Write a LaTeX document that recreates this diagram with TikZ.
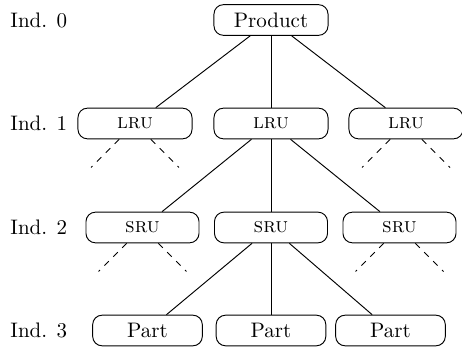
\documentclass[tikz,border=0pt]{standalone}
\begin{document}
\begin{tikzpicture}[x=0.476pt, y=-0.476pt,
  unit/.style={draw, rounded corners=4.5pt, inner sep=0pt, minimum height=14.6pt, line width=0.45pt},
  toplevel/.style={unit, minimum width=54.3pt},
  lrubox/.style={unit, minimum width=54.3pt},
  srubox/.style={unit, minimum width=53.8pt},
  partbox/.style={unit, minimum width=52.2pt},
  level/.style={anchor=west, inner sep=0pt},
  edge/.style={line width=0.45pt},
  hidden/.style={edge, dashed}]
\useasboundingbox (0,0) rectangle (462,349);

% level labels
\node[level] (l0) at (10,20) {Ind. 0};
\node[level] (l1) at (10,123.5) {Ind. 1};
\node[level] (l2) at (10,227.5) {Ind. 2};
\node[level] (l3) at (10,330.5) {Ind. 3};

% product structure
\node[toplevel] (p) at (271,20) {Product};
\node[lrubox] (lruA) at (135,123.5) {\textsc{lru}};
\node[lrubox] (lruB) at (271,123.5) {\textsc{lru}};
\node[lrubox] (lruC) at (406,123.5) {\textsc{lru}};
\node[srubox] (sruA) at (142.5,227.5) {\textsc{sru}};
\node[srubox] (sruB) at (271,227.5) {\textsc{sru}};
\node[srubox] (sruC) at (399.5,227.5) {\textsc{sru}};
\node[partbox] (partA) at (147.5,330.5) {Part};
\node[partbox] (partB) at (271,330.5) {Part};
\node[partbox] (partC) at (390.5,330.5) {Part};

% ends of the omitted branches
\coordinate (dA1) at (91,167.5);
\coordinate (dA2) at (179,167.5);
\coordinate (dC1) at (362,167.5);
\coordinate (dC2) at (450,167.5);
\coordinate (eA1) at (98.5,271.5);
\coordinate (eA2) at (186.5,271.5);
\coordinate (eC1) at (355.5,271.5);
\coordinate (eC2) at (443.5,271.5);

% solid edges
\draw[edge] (p) -- (lruA);
\draw[edge] (p) -- (lruB);
\draw[edge] (p) -- (lruC);
\draw[edge] (lruB) -- (sruA);
\draw[edge] (lruB) -- (sruB);
\draw[edge] (lruB) -- (sruC);
\draw[edge] (sruB) -- (partA);
\draw[edge] (sruB) -- (partB);
\draw[edge] (sruB) -- (partC);

% dashed edges
\draw[hidden] (lruA) -- (dA1);
\draw[hidden] (lruA) -- (dA2);
\draw[hidden] (lruC) -- (dC1);
\draw[hidden] (lruC) -- (dC2);
\draw[hidden] (sruA) -- (eA1);
\draw[hidden] (sruA) -- (eA2);
\draw[hidden] (sruC) -- (eC1);
\draw[hidden] (sruC) -- (eC2);
\end{tikzpicture}
\end{document}
